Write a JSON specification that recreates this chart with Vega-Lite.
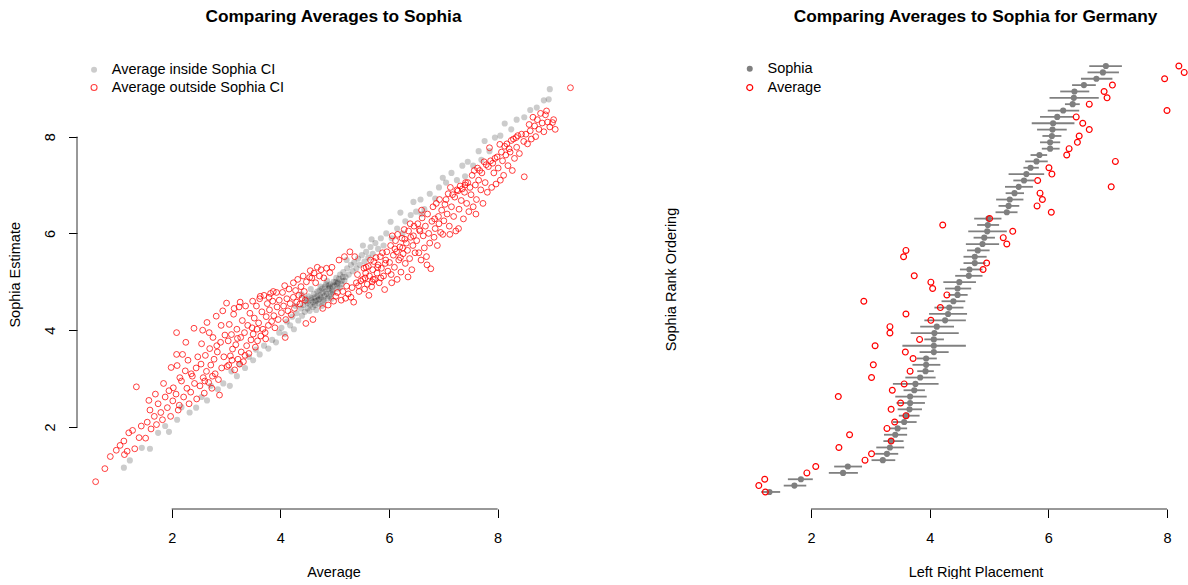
{
  "$schema": "https://vega.github.io/schema/vega-lite/v6.json",
  "background": "white",
  "padding": {"left": 7, "top": 7, "right": 0, "bottom": 0},
  "config": {
    "font": "Liberation Sans",
    "view": {"stroke": null},
    "axis": {"grid": false, "domain": false, "tickColor": "black", "tickWidth": 1, "tickSize": 8.5, "labelFont": "Liberation Sans", "labelFontSize": 14.5, "labelColor": "black", "titleFont": "Liberation Sans", "titleFontSize": 14.5, "titleFontWeight": "normal", "titleColor": "black"},
    "title": {"font": "Liberation Sans", "fontSize": 17.3, "fontWeight": "bold", "color": "black"},
    "legend": {"labelFont": "Liberation Sans", "labelFontSize": 14.5, "labelColor": "black", "labelLimit": 400, "symbolStrokeWidth": 1.1, "symbolSize": 36, "labelOffset": 10.5, "padding": 0, "orient": "none"}
  },
  "datasets": {
    "inside": [
{"avg":1.12,"est":1.16},{"avg":1.23,"est":1.31},{"avg":1.45,"est":1.57},{"avg":1.6,"est":1.55},{"avg":1.75,"est":1.88},{"avg":1.88,"est":2.02},{"avg":1.95,"est":1.9},{"avg":2.1,"est":2.15},{"avg":2.18,"est":2.41},{"avg":2.33,"est":2.3},{"avg":2.45,"est":2.4},{"avg":2.55,"est":2.62},{"avg":2.65,"est":2.55},{"avg":2.72,"est":2.85},{"avg":2.85,"est":2.78},{"avg":2.95,"est":2.9},{"avg":3.07,"est":2.85},{"avg":3.1,"est":3.15},{"avg":3.2,"est":3.05},{"avg":3.25,"est":3.3},{"avg":3.35,"est":3.22},{"avg":3.42,"est":3.45},{"avg":3.5,"est":3.38},{"avg":3.55,"est":3.6},{"avg":3.62,"est":3.5},{"avg":3.7,"est":3.68},{"avg":3.78,"est":3.62},{"avg":3.85,"est":3.8},{"avg":3.92,"est":3.75},{"avg":3.98,"est":3.95},
{"avg":4.02,"est":4.05},{"avg":4.08,"est":3.92},{"avg":4.12,"est":4.18},{"avg":4.18,"est":4.1},{"avg":4.22,"est":4.28},{"avg":4.25,"est":4.02},{"avg":4.28,"est":4.5},{"avg":4.3,"est":4.35},{"avg":4.33,"est":4.2},{"avg":4.38,"est":4.45},{"avg":4.39,"est":4.74},{"avg":4.4,"est":4.3},{"avg":4.42,"est":4.52},{"avg":4.45,"est":4.38},{"avg":4.48,"est":4.6},{"avg":4.5,"est":4.45},{"avg":4.52,"est":4.7},{"avg":4.55,"est":4.52},{"avg":4.56,"est":4.85},{"avg":4.58,"est":4.62},{"avg":4.6,"est":4.48},{"avg":4.62,"est":4.75},{"avg":4.65,"est":4.6},{"avg":4.66,"est":4.42},{"avg":4.68,"est":4.7},{"avg":4.7,"est":4.55},{"avg":4.72,"est":4.82},{"avg":4.75,"est":4.68},{"avg":4.76,"est":4.5},{"avg":4.78,"est":4.78},{"avg":4.8,"est":4.62},{"avg":4.82,"est":4.9},{"avg":4.85,"est":4.75},{"avg":4.86,"est":5.02},{"avg":4.88,"est":4.85},{"avg":4.9,"est":4.7},{"avg":4.92,"est":4.95},{"avg":4.94,"est":4.65},{"avg":4.95,"est":4.82},{"avg":4.98,"est":5.0},
{"avg":4.46,"est":4.66},{"avg":4.54,"est":4.4},{"avg":4.63,"est":4.68},{"avg":4.71,"est":4.64},{"avg":4.74,"est":4.9},{"avg":4.79,"est":4.58},{"avg":4.83,"est":4.8},{"avg":4.87,"est":4.66},{"avg":4.91,"est":4.88},{"avg":4.97,"est":4.78},{"avg":5.02,"est":5.0},{"avg":5.05,"est":4.86},{"avg":5.08,"est":5.06},{"avg":5.12,"est":4.95},{"avg":5.15,"est":5.1},{"avg":4.6,"est":4.58},{"avg":4.68,"est":4.8},{"avg":4.84,"est":4.95},{"avg":4.93,"est":4.76},{"avg":5.18,"est":5.02},
{"avg":4.5,"est":4.56},{"avg":4.57,"est":4.66},{"avg":4.64,"est":4.52},{"avg":4.73,"est":4.72},{"avg":4.81,"est":4.7},{"avg":4.89,"est":4.92},{"avg":4.96,"est":4.9},{"avg":5.04,"est":4.96},{"avg":4.69,"est":4.62},{"avg":4.77,"est":4.86},
{"avg":5.0,"est":4.92},{"avg":5.03,"est":5.08},{"avg":5.06,"est":4.98},{"avg":5.1,"est":5.15},{"avg":5.1,"est":4.88},{"avg":5.13,"est":5.02},{"avg":5.16,"est":5.2},{"avg":5.2,"est":5.1},{"avg":5.22,"est":5.45},{"avg":5.23,"est":5.28},{"avg":5.26,"est":5.15},{"avg":5.3,"est":5.35},{"avg":5.33,"est":5.22},{"avg":5.36,"est":5.4},{"avg":5.4,"est":5.28},{"avg":5.43,"est":5.48},{"avg":5.46,"est":5.35},{"avg":5.5,"est":5.55},{"avg":5.52,"est":5.75},{"avg":5.55,"est":5.42},{"avg":5.58,"est":5.62},{"avg":5.62,"est":5.5},{"avg":5.66,"est":5.72},{"avg":5.68,"est":5.88},{"avg":5.7,"est":5.58},{"avg":5.75,"est":5.8},{"avg":5.8,"est":5.68},{"avg":5.85,"est":5.9},{"avg":5.9,"est":5.75},{"avg":5.95,"est":6.0},
{"avg":6.03,"est":6.24},{"avg":6.05,"est":5.9},{"avg":6.15,"est":6.1},{"avg":6.21,"est":6.43},{"avg":6.25,"est":6.0},{"avg":6.3,"est":6.25},{"avg":6.4,"est":6.38},{"avg":6.45,"est":6.65},{"avg":6.5,"est":6.45},{"avg":6.58,"est":6.7},{"avg":6.6,"est":6.4},{"avg":6.65,"est":6.5},{"avg":6.75,"est":6.82},{"avg":6.85,"est":6.72},{"avg":6.92,"est":6.95},{"avg":6.99,"est":7.15},{"avg":7.05,"est":7.05},{"avg":7.15,"est":7.25},{"avg":7.25,"est":7.1},{"avg":7.35,"est":7.4},{"avg":7.4,"est":7.18},{"avg":7.45,"est":7.48},{"avg":7.55,"est":7.4},{"avg":7.65,"est":7.7},{"avg":7.7,"est":7.52},{"avg":7.76,"est":7.91},{"avg":7.85,"est":7.7},{"avg":7.95,"est":7.98},{"avg":8.05,"est":8.02},{"avg":8.13,"est":8.27},{"avg":8.25,"est":8.15},{"avg":8.35,"est":8.35},{"avg":8.49,"est":8.4},{"avg":8.6,"est":8.55},{"avg":8.72,"est":8.6},{"avg":8.85,"est":8.75},{"avg":8.94,"est":8.77},{"avg":8.96,"est":8.98}
    ],
    "outside": [
{"avg":0.6,"est":0.87},{"avg":0.77,"est":1.14},{"avg":0.87,"est":1.39},{"avg":0.98,"est":1.52},
{"avg":1.13,"est":1.43},{"avg":1.12,"est":1.71},{"avg":1.32,"est":1.55},{"avg":1.21,"est":1.88},{"avg":1.35,"est":2.83},{"avg":1.44,"est":2.02},{"avg":1.05,"est":1.62},{"avg":1.28,"est":1.93},{"avg":1.4,"est":1.78},{"avg":1.18,"est":1.5},
{"avg":1.52,"est":1.77},{"avg":1.62,"est":1.96},{"avg":1.55,"est":2.1},{"avg":1.6,"est":2.35},{"avg":1.68,"est":2.22},{"avg":1.72,"est":2.05},{"avg":1.75,"est":2.48},{"avg":1.8,"est":2.3},{"avg":1.83,"est":2.15},{"avg":1.88,"est":2.62},{"avg":1.92,"est":2.4},{"avg":1.95,"est":2.75},{"avg":1.58,"est":2.55},{"avg":1.7,"est":2.68},{"avg":1.85,"est":2.9},{"avg":1.98,"est":2.22},
{"avg":2.02,"est":2.54},{"avg":2.09,"est":3.95},{"avg":2.03,"est":2.81},{"avg":2.08,"est":2.68},{"avg":2.1,"est":3.27},{"avg":2.12,"est":2.35},{"avg":2.15,"est":3.02},{"avg":2.18,"est":2.95},{"avg":2.2,"est":3.5},{"avg":2.22,"est":2.62},{"avg":2.25,"est":3.16},{"avg":2.28,"est":2.8},{"avg":2.3,"est":3.38},{"avg":2.32,"est":2.48},{"avg":2.35,"est":2.72},{"avg":2.38,"est":3.05},{"avg":2.41,"est":4.04},{"avg":2.42,"est":2.9},{"avg":2.45,"est":3.22},{"avg":2.46,"est":2.58},{"avg":2.48,"est":3.45},{"avg":2.26,"est":3.75},{"avg":2.36,"est":3.1},{"avg":2.14,"est":2.45},{"avg":1.99,"est":3.23},{"avg":2.09,"est":3.5},
{"avg":2.52,"est":2.85},{"avg":2.54,"est":3.3},{"avg":2.55,"est":3.72},{"avg":2.58,"est":3.02},{"avg":2.6,"est":2.7},{"avg":2.62,"est":3.48},{"avg":2.64,"est":3.15},{"avg":2.65,"est":4.16},{"avg":2.68,"est":2.92},{"avg":2.7,"est":3.62},{"avg":2.72,"est":3.28},{"avg":2.74,"est":2.8},{"avg":2.76,"est":3.85},{"avg":2.78,"est":3.4},{"avg":2.8,"est":3.1},{"avg":2.82,"est":4.29},{"avg":2.84,"est":3.55},{"avg":2.86,"est":2.98},{"avg":2.88,"est":2.66},{"avg":2.9,"est":3.75},{"avg":2.92,"est":3.22},{"avg":2.94,"est":4.4},{"avg":2.96,"est":3.45},{"avg":2.98,"est":3.9},{"avg":2.57,"est":4.0},{"avg":2.69,"est":3.95},{"avg":2.83,"est":3.68},{"avg":2.91,"est":4.1},{"avg":2.61,"est":2.95},{"avg":2.75,"est":3.05},
{"avg":3.01,"est":4.56},{"avg":3.02,"est":3.25},{"avg":3.04,"est":3.78},{"avg":3.06,"est":4.12},{"avg":3.08,"est":3.47},{"avg":3.1,"est":3.91},{"avg":3.12,"est":3.61},{"avg":3.14,"est":4.33},{"avg":3.16,"est":3.18},{"avg":3.18,"est":3.7},{"avg":3.2,"est":4.02},{"avg":3.22,"est":3.4},{"avg":3.24,"est":4.48},{"avg":3.26,"est":4.58},{"avg":3.27,"est":3.85},{"avg":3.28,"est":3.55},{"avg":3.3,"est":4.2},{"avg":3.32,"est":3.35},{"avg":3.34,"est":3.95},{"avg":3.36,"est":4.5},{"avg":3.38,"est":3.68},{"avg":3.4,"est":4.1},{"avg":3.42,"est":3.52},{"avg":3.44,"est":4.35},{"avg":3.46,"est":3.8},{"avg":3.48,"est":4.05},{"avg":3.49,"est":4.6},{"avg":3.05,"est":3.28},{"avg":3.15,"est":4.45},{"avg":3.25,"est":3.3},{"avg":3.35,"est":3.48},{"avg":3.11,"est":3.38},{"avg":3.21,"est":3.83},
{"avg":3.5,"est":3.92},{"avg":3.52,"est":4.25},{"avg":3.54,"est":3.65},{"avg":3.56,"est":4.5},{"avg":3.58,"est":3.78},{"avg":3.6,"est":4.15},{"avg":3.62,"est":4.65},{"avg":3.64,"est":3.88},{"avg":3.66,"est":4.38},{"avg":3.68,"est":4.02},{"avg":3.7,"est":4.72},{"avg":3.72,"est":3.95},{"avg":3.74,"est":4.28},{"avg":3.76,"est":4.55},{"avg":3.78,"est":4.1},{"avg":3.8,"est":4.42},{"avg":3.82,"est":4.76},{"avg":3.84,"est":4.18},{"avg":3.86,"est":4.6},{"avg":3.88,"est":4.3},{"avg":3.9,"est":4.05},{"avg":3.93,"est":4.78},{"avg":3.94,"est":4.48},{"avg":3.96,"est":4.22},{"avg":3.98,"est":4.62},{"avg":3.57,"est":4.02},{"avg":3.73,"est":3.82},{"avg":3.87,"est":4.8},{"avg":3.63,"est":4.7},{"avg":3.79,"est":4.68},
{"avg":4.02,"est":4.36},{"avg":4.04,"est":4.78},{"avg":4.06,"est":4.5},{"avg":4.08,"est":4.92},{"avg":4.1,"est":4.22},{"avg":4.12,"est":4.65},{"avg":4.14,"est":4.4},{"avg":4.16,"est":4.85},{"avg":4.18,"est":4.55},{"avg":4.2,"est":4.32},{"avg":4.24,"est":4.98},{"avg":4.24,"est":4.68},{"avg":4.26,"est":4.45},{"avg":4.28,"est":4.82},{"avg":4.3,"est":4.58},{"avg":4.32,"est":5.05},{"avg":4.34,"est":4.72},{"avg":4.36,"est":4.54},{"avg":4.38,"est":4.9},{"avg":4.4,"est":4.66},{"avg":4.42,"est":5.12},{"avg":4.44,"est":4.8},{"avg":4.46,"est":4.62},{"avg":4.48,"est":5.0},{"avg":4.47,"est":4.14},{"avg":4.09,"est":3.85},
{"avg":4.54,"est":5.09},{"avg":4.55,"est":5.23},{"avg":4.58,"est":5.08},{"avg":4.62,"est":5.18},{"avg":4.65,"est":4.98},{"avg":4.68,"est":5.3},{"avg":4.72,"est":5.12},{"avg":4.75,"est":5.25},{"avg":4.8,"est":5.08},{"avg":4.85,"est":5.28},{"avg":4.91,"est":5.19},{"avg":4.95,"est":5.3},{"avg":4.6,"est":4.22},{"avg":4.78,"est":4.45},{"avg":4.88,"est":4.52},{"avg":4.98,"est":4.6},
{"avg":5.02,"est":4.7},{"avg":5.05,"est":4.78},{"avg":5.08,"est":5.45},{"avg":5.12,"est":4.62},{"avg":5.15,"est":4.8},{"avg":5.18,"est":5.52},{"avg":5.22,"est":4.91},{"avg":5.25,"est":4.75},{"avg":5.28,"est":5.62},{"avg":5.32,"est":4.88},{"avg":5.35,"est":4.58},{"avg":5.37,"est":5.52},{"avg":5.4,"est":4.98},{"avg":5.42,"est":5.15},{"avg":5.45,"est":4.8},{"avg":5.48,"est":5.02},{"avg":5.3,"est":4.68},{"avg":5.44,"est":4.92},{"avg":5.2,"est":4.66},
{"avg":5.52,"est":5.05},{"avg":5.54,"est":5.28},{"avg":5.55,"est":4.85},{"avg":5.57,"est":5.18},{"avg":5.58,"est":5.3},{"avg":5.6,"est":4.95},{"avg":5.62,"est":5.32},{"avg":5.64,"est":5.12},{"avg":5.66,"est":5.45},{"avg":5.68,"est":4.9},{"avg":5.7,"est":5.25},{"avg":5.72,"est":5.42},{"avg":5.74,"est":5.05},{"avg":5.76,"est":5.5},{"avg":5.78,"est":5.18},{"avg":5.8,"est":5.35},{"avg":5.82,"est":4.98},{"avg":5.84,"est":5.52},{"avg":5.86,"est":5.28},{"avg":5.88,"est":5.6},{"avg":5.9,"est":5.12},{"avg":5.92,"est":4.84},{"avg":5.94,"est":5.45},{"avg":5.96,"est":5.62},{"avg":5.98,"est":5.22},{"avg":5.63,"est":4.72},{"avg":5.71,"est":5.05},{"avg":5.85,"est":5.08},{"avg":5.79,"est":5.3},{"avg":5.93,"est":5.38},{"avg":5.56,"est":5.08},{"avg":5.69,"est":5.0},
{"avg":6.01,"est":5.4},{"avg":6.03,"est":5.75},{"avg":6.04,"est":5.15},{"avg":6.06,"est":5.95},{"avg":6.08,"est":5.55},{"avg":6.1,"est":5.3},{"avg":6.12,"est":5.85},{"avg":6.14,"est":5.62},{"avg":6.16,"est":5.98},{"avg":6.18,"est":5.45},{"avg":6.2,"est":5.72},{"avg":6.22,"est":5.2},{"avg":6.24,"est":5.9},{"avg":6.26,"est":5.58},{"avg":6.28,"est":6.08},{"avg":6.3,"est":5.38},{"avg":6.32,"est":5.8},{"avg":6.34,"est":5.65},{"avg":6.36,"est":6.05},{"avg":6.38,"est":5.48},{"avg":6.4,"est":5.92},{"avg":6.42,"est":5.25},{"avg":6.44,"est":5.75},{"avg":6.46,"est":6.15},{"avg":6.48,"est":5.6},{"avg":6.05,"est":4.98},{"avg":6.15,"est":5.05},{"avg":6.25,"est":5.7},{"avg":6.35,"est":5.1},{"avg":6.45,"est":5.95},{"avg":6.11,"est":5.68},{"avg":6.29,"est":5.88},{"avg":6.39,"est":6.2},{"avg":6.21,"est":5.5},
{"avg":6.51,"est":5.85},{"avg":6.53,"est":6.2},{"avg":6.55,"est":5.6},{"avg":6.57,"est":6.05},{"avg":6.59,"est":5.45},{"avg":6.61,"est":6.32},{"avg":6.63,"est":5.95},{"avg":6.65,"est":5.7},{"avg":6.67,"est":6.15},{"avg":6.69,"est":5.52},{"avg":6.71,"est":6.4},{"avg":6.73,"est":6.0},{"avg":6.75,"est":5.8},{"avg":6.77,"est":5.27},{"avg":6.79,"est":6.25},{"avg":6.81,"est":6.55},{"avg":6.83,"est":5.92},{"avg":6.85,"est":6.1},{"avg":6.87,"est":6.62},{"avg":6.89,"est":5.75},{"avg":6.91,"est":6.35},{"avg":6.93,"est":6.7},{"avg":6.95,"est":6.02},{"avg":6.97,"est":6.48},{"avg":6.99,"est":5.98},{"avg":6.6,"est":6.48},{"avg":6.7,"est":5.35},{"avg":6.84,"est":6.3},{"avg":6.92,"est":6.2},{"avg":6.56,"est":6.08},
{"avg":7.01,"est":6.26},{"avg":7.03,"est":6.6},{"avg":7.05,"est":6.7},{"avg":7.07,"est":6.4},{"avg":7.09,"est":6.82},{"avg":7.11,"est":6.15},{"avg":7.13,"est":6.95},{"avg":7.15,"est":6.55},{"avg":7.17,"est":6.8},{"avg":7.19,"est":6.35},{"avg":7.21,"est":6.75},{"avg":7.23,"est":6.05},{"avg":7.25,"est":6.9},{"avg":7.27,"est":6.88},{"avg":7.29,"est":6.5},{"avg":7.31,"est":6.98},{"avg":7.33,"est":6.68},{"avg":7.35,"est":6.92},{"avg":7.37,"est":6.3},{"avg":7.39,"est":6.85},{"avg":7.41,"est":7.05},{"avg":7.43,"est":6.62},{"avg":7.45,"est":7.05},{"avg":7.47,"est":6.45},{"avg":7.49,"est":6.95},{"avg":7.12,"est":5.98},{"avg":7.28,"est":6.1},{"avg":7.4,"est":7.0},
{"avg":7.51,"est":6.8},{"avg":7.53,"est":7.2},{"avg":7.55,"est":6.55},{"avg":7.57,"est":7.3},{"avg":7.59,"est":7.0},{"avg":7.61,"est":6.7},{"avg":7.63,"est":7.35},{"avg":7.65,"est":7.1},{"avg":7.67,"est":7.3},{"avg":7.69,"est":6.9},{"avg":7.71,"est":7.25},{"avg":7.73,"est":6.62},{"avg":7.75,"est":7.48},{"avg":7.77,"est":7.05},{"avg":7.79,"est":7.42},{"avg":7.81,"est":6.85},{"avg":7.83,"est":7.38},{"avg":7.85,"est":7.77},{"avg":7.87,"est":7.5},{"avg":7.89,"est":6.95},{"avg":7.91,"est":7.45},{"avg":7.93,"est":7.25},{"avg":7.95,"est":7.55},{"avg":7.97,"est":7.02},{"avg":7.99,"est":7.58},{"avg":7.6,"est":6.4},
{"avg":8.01,"est":7.35},{"avg":8.04,"est":7.84},{"avg":8.05,"est":7.1},{"avg":8.07,"est":7.68},{"avg":8.09,"est":7.5},{"avg":8.11,"est":7.2},{"avg":8.13,"est":7.8},{"avg":8.15,"est":7.62},{"avg":8.17,"est":7.85},{"avg":8.19,"est":7.4},{"avg":8.21,"est":7.75},{"avg":8.23,"est":7.68},{"avg":8.25,"est":7.92},{"avg":8.27,"est":7.3},{"avg":8.29,"est":7.95},{"avg":8.31,"est":7.55},{"avg":8.34,"est":7.98},{"avg":8.35,"est":7.78},{"avg":8.37,"est":8.02},{"avg":8.4,"est":7.65},{"avg":8.44,"est":8.05},{"avg":8.48,"est":7.9},
{"avg":8.49,"est":7.17},{"avg":8.52,"est":8.05},{"avg":8.55,"est":7.85},{"avg":8.58,"est":8.25},{"avg":8.6,"est":8.12},{"avg":8.62,"est":7.95},{"avg":8.65,"est":8.4},{"avg":8.68,"est":8.22},{"avg":8.7,"est":8.0},{"avg":8.73,"est":8.35},{"avg":8.76,"est":8.15},{"avg":8.79,"est":8.48},{"avg":8.82,"est":8.28},{"avg":8.85,"est":8.1},{"avg":8.88,"est":8.45},{"avg":8.9,"est":8.53},{"avg":8.92,"est":8.3},{"avg":8.96,"est":8.2},
{"avg":9.01,"est":8.29},{"avg":9.03,"est":8.35},{"avg":9.06,"est":8.15},{"avg":9.34,"est":9.01}
    ],
    "germany": [
{"rank":68,"Sophia":6.97,"lo":6.69,"hi":7.24,"Average":8.2},
{"rank":67,"Sophia":6.92,"lo":6.66,"hi":7.19,"Average":8.29},
{"rank":66,"Sophia":6.81,"lo":6.55,"hi":7.08,"Average":7.96},
{"rank":65,"Sophia":6.6,"lo":6.4,"hi":6.8,"Average":7.08},
{"rank":64,"Sophia":6.44,"lo":6.2,"hi":6.69,"Average":6.94},
{"rank":63,"Sophia":6.43,"lo":6.02,"hi":6.85,"Average":6.99},
{"rank":62,"Sophia":6.41,"lo":6.28,"hi":6.53,"Average":6.69},
{"rank":61,"Sophia":6.25,"lo":5.99,"hi":6.52,"Average":8.0},
{"rank":60,"Sophia":6.15,"lo":5.86,"hi":6.42,"Average":6.47},
{"rank":59,"Sophia":6.08,"lo":5.72,"hi":6.44,"Average":6.58},
{"rank":58,"Sophia":6.07,"lo":5.81,"hi":6.31,"Average":6.69},
{"rank":57,"Sophia":6.06,"lo":5.9,"hi":6.22,"Average":6.52},
{"rank":56,"Sophia":6.03,"lo":5.86,"hi":6.2,"Average":6.49},
{"rank":55,"Sophia":6.03,"lo":5.89,"hi":6.19,"Average":6.35},
{"rank":54,"Sophia":5.85,"lo":5.7,"hi":5.98,"Average":6.31},
{"rank":53,"Sophia":5.8,"lo":5.61,"hi":5.99,"Average":7.13},
{"rank":52,"Sophia":5.7,"lo":5.58,"hi":5.84,"Average":6.01},
{"rank":51,"Sophia":5.63,"lo":5.33,"hi":5.93,"Average":6.06},
{"rank":50,"Sophia":5.59,"lo":5.41,"hi":5.76,"Average":5.82},
{"rank":49,"Sophia":5.5,"lo":5.27,"hi":5.74,"Average":7.06},
{"rank":48,"Sophia":5.43,"lo":5.28,"hi":5.59,"Average":5.86},
{"rank":47,"Sophia":5.35,"lo":5.12,"hi":5.58,"Average":5.9},
{"rank":46,"Sophia":5.33,"lo":5.16,"hi":5.51,"Average":5.81},
{"rank":45,"Sophia":5.3,"lo":5.11,"hi":5.48,"Average":6.05},
{"rank":44,"Sophia":4.99,"lo":4.75,"hi":5.21,"Average":5.01},
{"rank":43,"Sophia":4.98,"lo":4.8,"hi":5.17,"Average":4.22},
{"rank":42,"Sophia":4.97,"lo":4.65,"hi":5.3,"Average":5.4},
{"rank":41,"Sophia":4.92,"lo":4.74,"hi":5.1,"Average":5.24},
{"rank":40,"Sophia":4.89,"lo":4.61,"hi":5.17,"Average":5.3},
{"rank":39,"Sophia":4.81,"lo":4.63,"hi":5.01,"Average":3.6},
{"rank":38,"Sophia":4.76,"lo":4.57,"hi":4.96,"Average":3.56},
{"rank":37,"Sophia":4.76,"lo":4.57,"hi":4.94,"Average":4.96},
{"rank":36,"Sophia":4.67,"lo":4.51,"hi":4.89,"Average":4.9},
{"rank":35,"Sophia":4.66,"lo":4.43,"hi":4.89,"Average":3.74},
{"rank":34,"Sophia":4.5,"lo":4.23,"hi":4.78,"Average":4.02},
{"rank":33,"Sophia":4.47,"lo":4.26,"hi":4.7,"Average":4.05},
{"rank":32,"Sophia":4.47,"lo":4.31,"hi":4.64,"Average":4.29},
{"rank":31,"Sophia":4.4,"lo":4.2,"hi":4.6,"Average":2.89},
{"rank":30,"Sophia":4.33,"lo":4.08,"hi":4.57,"Average":4.18},
{"rank":29,"Sophia":4.31,"lo":3.99,"hi":4.63,"Average":3.6},
{"rank":28,"Sophia":4.26,"lo":3.91,"hi":4.61,"Average":4.02},
{"rank":27,"Sophia":4.12,"lo":3.84,"hi":4.41,"Average":3.33},
{"rank":26,"Sophia":4.08,"lo":3.68,"hi":4.49,"Average":3.33},
{"rank":25,"Sophia":4.07,"lo":3.91,"hi":4.24,"Average":3.83},
{"rank":24,"Sophia":4.07,"lo":3.54,"hi":4.61,"Average":3.08},
{"rank":23,"Sophia":4.07,"lo":3.83,"hi":4.32,"Average":3.59},
{"rank":22,"Sophia":3.94,"lo":3.78,"hi":4.12,"Average":3.72},
{"rank":21,"Sophia":3.94,"lo":3.71,"hi":4.18,"Average":3.05},
{"rank":20,"Sophia":3.93,"lo":3.79,"hi":4.07,"Average":3.67},
{"rank":19,"Sophia":3.84,"lo":3.59,"hi":4.1,"Average":3.02},
{"rank":18,"Sophia":3.76,"lo":3.38,"hi":4.15,"Average":3.57},
{"rank":17,"Sophia":3.74,"lo":3.56,"hi":3.92,"Average":3.37},
{"rank":16,"Sophia":3.67,"lo":3.42,"hi":3.95,"Average":2.46},
{"rank":15,"Sophia":3.67,"lo":3.44,"hi":3.92,"Average":3.51},
{"rank":14,"Sophia":3.66,"lo":3.46,"hi":3.87,"Average":3.35},
{"rank":13,"Sophia":3.61,"lo":3.48,"hi":3.83,"Average":3.6},
{"rank":12,"Sophia":3.57,"lo":3.38,"hi":3.78,"Average":3.41},
{"rank":11,"Sophia":3.46,"lo":3.33,"hi":3.62,"Average":3.28},
{"rank":10,"Sophia":3.42,"lo":3.23,"hi":3.62,"Average":2.65},
{"rank":9,"Sophia":3.35,"lo":3.22,"hi":3.56,"Average":3.35},
{"rank":8,"Sophia":3.33,"lo":3.1,"hi":3.57,"Average":2.47},
{"rank":7,"Sophia":3.28,"lo":3.08,"hi":3.47,"Average":3.02},
{"rank":6,"Sophia":3.21,"lo":3.02,"hi":3.42,"Average":2.91},
{"rank":5,"Sophia":2.62,"lo":2.39,"hi":2.86,"Average":2.08},
{"rank":4,"Sophia":2.54,"lo":2.3,"hi":2.79,"Average":1.93},
{"rank":3,"Sophia":1.83,"lo":1.61,"hi":2.03,"Average":1.22},
{"rank":2,"Sophia":1.72,"lo":1.54,"hi":1.92,"Average":1.12},
{"rank":1,"Sophia":1.3,"lo":1.16,"hi":1.48,"Average":1.23}
    ],
    "axisline": [{"from": 2, "to": 8}]
  },
  "bounds": "flush",
  "spacing": 143,
  "hconcat": [
    {
      "width": 513,
      "height": 460,
      "title": {"text": "Comparing Averages to Sophia", "frame": "group", "anchor": "middle", "baseline": "alphabetic", "offset": 10},
      "layer": [
        {
          "data": {"name": "inside"},
          "mark": {"type": "point", "filled": true, "size": 38, "strokeWidth": 0, "opacity": 1},
          "encoding": {
            "x": {"field": "avg", "type": "quantitative", "scale": {"domain": [0.257, 9.7], "nice": false, "zero": false},
                  "axis": {"values": [2, 4, 6, 8], "format": "d", "title": "Average", "titleX": 256.5, "titleY": 67.5, "titleBaseline": "alphabetic", "titleAlign": "center", "labelBaseline": "alphabetic", "labelPadding": 24.5, "labelFlush": false, "labels": true, "ticks": true}},
            "y": {"field": "est", "type": "quantitative", "scale": {"domain": [0.306, 9.81], "nice": false, "zero": false},
                  "axis": {"values": [2, 4, 6, 8], "format": "d", "title": "Sophia Estimate", "titleX": -57.8, "titleY": 225.3, "titleAngle": -90, "titleBaseline": "alphabetic", "titleAlign": "center", "labelAngle": -90, "labelAlign": "center", "labelBaseline": "alphabetic", "labelPadding": 14.5, "labelFlush": false, "labels": true, "ticks": true}},
            "fill": {"datum": "Average inside Sophia CI", "type": "nominal", "scale": {"domain": ["Average inside Sophia CI"], "range": ["rgba(0,0,0,0.2)"]},
                     "legend": {"title": null, "orient": "none", "legendX": 9.8, "legendY": 13.6, "symbolType": "circle"}}
          }
        },
        {
          "data": {"name": "outside"},
          "mark": {"type": "point", "filled": false, "size": 34, "strokeWidth": 1, "opacity": 1},
          "encoding": {
            "x": {"field": "avg", "type": "quantitative", "scale": {"domain": [0.257, 9.7], "nice": false, "zero": false}},
            "y": {"field": "est", "type": "quantitative", "scale": {"domain": [0.306, 9.81], "nice": false, "zero": false}},
            "stroke": {"datum": "Average outside Sophia CI", "type": "nominal", "scale": {"domain": ["Average outside Sophia CI"], "range": ["rgba(255,0,0,0.75)"]},
                     "legend": {"title": null, "orient": "none", "legendX": 9.8, "legendY": 31.3, "symbolType": "circle"}}
          }
        },
        {
          "data": {"name": "axisline"},
          "mark": {"type": "rule", "color": "#333333", "strokeWidth": 1},
          "encoding": {
            "x": {"field": "from", "type": "quantitative", "scale": {"domain": [0.257, 9.7], "nice": false, "zero": false}},
            "x2": {"field": "to"},
            "y": {"value": "height"}
          }
        },
        {
          "data": {"name": "axisline"},
          "mark": {"type": "rule", "color": "#333333", "strokeWidth": 1},
          "encoding": {
            "y": {"field": "from", "type": "quantitative", "scale": {"domain": [0.306, 9.81], "nice": false, "zero": false}},
            "y2": {"field": "to"},
            "x": {"value": 0}
          }
        }
      ]
    },
    {
      "width": 455,
      "height": 460,
      "title": {"text": "Comparing Averages to Sophia for Germany", "frame": "group", "anchor": "middle", "baseline": "alphabetic", "offset": 10, "dx": 15},
      "layer": [
        {
          "data": {"name": "axisline"},
          "mark": {"type": "rule", "color": "#333333", "strokeWidth": 1},
          "encoding": {
            "x": {"field": "from", "type": "quantitative", "scale": {"domain": [0.685, 8.354], "nice": false, "zero": false}},
            "x2": {"field": "to"},
            "y": {"value": "height"}
          }
        },
        {
          "data": {"name": "germany"},
          "mark": {"type": "rule", "color": "#808080", "strokeWidth": 1.8},
          "encoding": {
            "x": {"field": "lo", "type": "quantitative", "scale": {"domain": [0.685, 8.354], "nice": false, "zero": false},
                  "axis": {"values": [2, 4, 6, 8], "format": "d", "title": "Left Right Placement", "titleX": 242.5, "titleY": 67.5, "titleBaseline": "alphabetic", "titleAlign": "center", "labelBaseline": "alphabetic", "labelPadding": 24.5, "labelFlush": false, "labels": true, "ticks": true}},
            "x2": {"field": "hi"},
            "y": {"field": "rank", "type": "quantitative", "scale": {"domain": [-1.68, 70.68], "nice": false, "zero": false},
                  "axis": {"title": "Sophia Rank Ordering", "labels": false, "ticks": false, "titleX": -57.5, "titleY": 230, "titleAngle": -90, "titleBaseline": "alphabetic", "titleAlign": "center"}}
          }
        },
        {
          "data": {"name": "germany"},
          "mark": {"type": "point", "filled": true, "size": 38, "strokeWidth": 0, "opacity": 1},
          "encoding": {
            "x": {"field": "Sophia", "type": "quantitative", "scale": {"domain": [0.685, 8.354], "nice": false, "zero": false}},
            "y": {"field": "rank", "type": "quantitative", "scale": {"domain": [-1.68, 70.68], "nice": false, "zero": false}},
            "color": {"datum": "Sophia", "type": "nominal", "scale": {"domain": ["Sophia"], "range": ["#7f7f7f"]},
                      "legend": {"title": null, "orient": "none", "legendX": 665.5, "legendY": 12.6, "symbolType": "circle"}}
          }
        },
        {
          "data": {"name": "germany"},
          "mark": {"type": "point", "filled": false, "color": "#ff0000", "size": 34, "strokeWidth": 1.2, "opacity": 1},
          "encoding": {
            "x": {"field": "Average", "type": "quantitative", "scale": {"domain": [0.685, 8.354], "nice": false, "zero": false}},
            "y": {"field": "rank", "type": "quantitative", "scale": {"domain": [-1.68, 70.68], "nice": false, "zero": false}},
            "shape": {"datum": "Average", "type": "nominal", "scale": {"domain": ["Average"], "range": ["circle"]},
                      "legend": {"title": null, "orient": "none", "legendX": 665.5, "legendY": 31.3, "symbolStrokeColor": "#ff0000", "symbolFillColor": "transparent", "symbolStrokeWidth": 1.2}}
          }
        }
      ]
    }
  ]
}
